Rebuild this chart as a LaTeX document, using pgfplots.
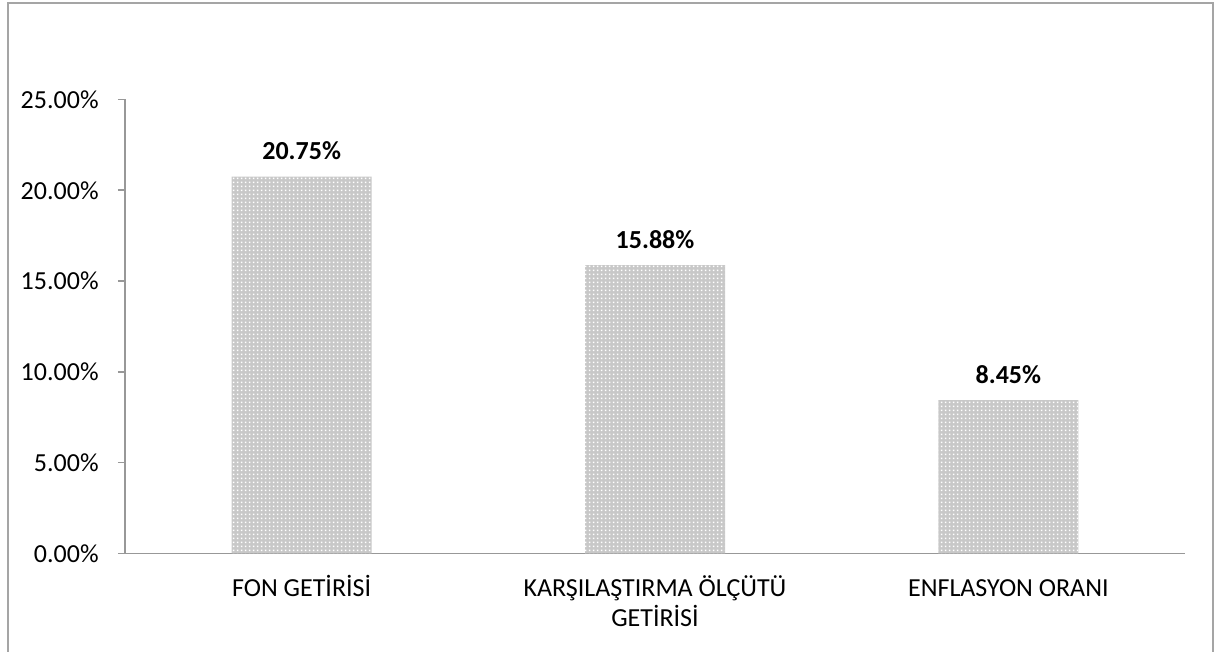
\documentclass[border=0pt]{standalone}
\usepackage{fontspec}
\setmainfont{Carlito}
\usepackage{pgfplots}
\pgfplotsset{compat=1.18}
\usetikzlibrary{patterns}
\definecolor{barfill}{RGB}{200,200,200}
\definecolor{axisgray}{RGB}{152,152,152}
\definecolor{framegray}{RGB}{165,165,165}
\pgfdeclarepatternformonly{wdots}{\pgfqpoint{0pt}{0pt}}{\pgfqpoint{2pt}{2pt}}{\pgfqpoint{2pt}{2pt}}{%
  \pgfpathrectangle{\pgfqpoint{0.55pt}{0.55pt}}{\pgfqpoint{0.9pt}{0.9pt}}\pgfusepath{fill}}
\begin{document}
\begin{tikzpicture}
\useasboundingbox (-62.5pt,-49.25pt) rectangle (544.5pt,276.75pt);
\draw[framegray, line width=0.8pt] (-58.5pt,-60pt) -- (-58.5pt,275.25pt) -- (544pt,275.25pt) -- (544pt,-60pt);
\begin{axis}[
  at={(0pt,0pt)}, anchor=south west,
  width=530pt, height=227pt, scale only axis,
  xmin=-0.5, xmax=2.5, ymin=0, ymax=25,
  axis x line*=bottom, axis y line*=left,
  axis line style={axisgray, line width=0.8pt, -},
  every tick/.style={axisgray, line width=0.8pt},
  tick align=outside,
  major tick length=3.5pt,
  xtick={0,1,2},
  xticklabels={FON GETİRİSİ, {\begin{tabular}[t]{@{}c@{}}KARŞILAŞTIRMA ÖLÇÜTÜ\\GETİRİSİ\end{tabular}}, ENFLASYON ORANI},
  x tick style={draw=none},
  extra x ticks={-0.5,0.5,1.5,2.5},
  extra x tick labels={},
  extra x tick style={x tick style={axisgray, line width=0.8pt}, major tick length=4pt},
  ytick={0,5,10,15,20,25},
  /pgf/number format/assume math mode=true,
  yticklabel={\pgfmathprintnumber[fixed,fixed zerofill,precision=2]{\tick}\%},
  tick label style={font=\fontsize{13}{15}\selectfont, black},
  xticklabel style={anchor=base, inner sep=0pt, yshift=-18pt},
  yticklabel style={anchor=east, inner sep=0pt, xshift=-9.5pt},
  ybar, bar width=70pt,
  nodes near coords={\pgfmathprintnumber[fixed,fixed zerofill,precision=2]{\pgfplotspointmeta}\%},
  nodes near coords style={font=\fontsize{13}{15}\selectfont\bfseries, black, anchor=base, inner sep=0pt, yshift=8.5pt},
  clip=false,
]
\addplot[draw=none, fill=barfill, postaction={pattern=wdots, pattern color=white}] coordinates {(0,20.75) (1,15.88) (2,8.45)};
\end{axis}
\end{tikzpicture}
\end{document}
